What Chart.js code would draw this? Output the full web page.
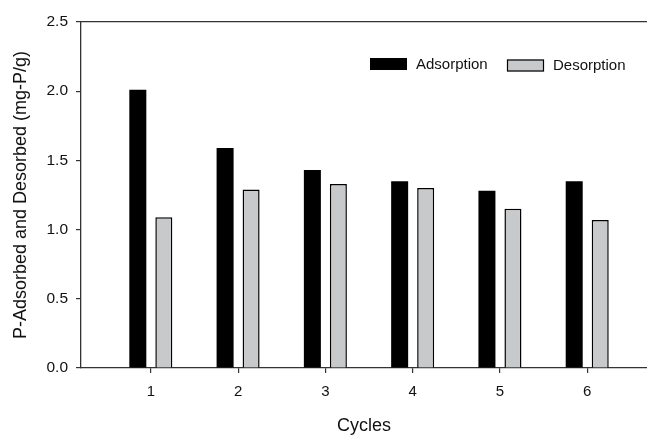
<!DOCTYPE html>
<html>
<head>
<meta charset="utf-8">
<script src="https://cdn.jsdelivr.net/npm/chart.js@4.4.1/dist/chart.umd.min.js"></script>
<style>
  html, body { margin: 0; padding: 0; background: #fff; }
  canvas { display: block; }
</style>
</head>
<body>
<canvas id="cyclesChart" width="647" height="435"></canvas>
<script>
// P adsorbed / desorbed per regeneration cycle
const cycles = [1, 2, 3, 4, 5, 6];
const adsorption = [2.01, 1.59, 1.43, 1.35, 1.28, 1.35];
const desorption = [1.09, 1.29, 1.33, 1.30, 1.15, 1.07];
const yTicks = [0, 0.5, 1.0, 1.5, 2.0, 2.5];

const axisColor = '#333333';
const textColor = '#111111';

Chart.defaults.font.family = "'Liberation Sans', Arial, sans-serif";
Chart.defaults.color = textColor;

// legend drawn inside the plot, boxes a little offset from each other
const boxLegend = {
    id: 'boxLegend',
    afterDraw(chart) {
        const { ctx, chartArea } = chart;
        const spots = [
            { x: 289, y: 36 },
            { x: 426, y: 37.5 }
        ];
        ctx.save();
        ctx.font = "15px 'Liberation Sans', Arial, sans-serif";
        ctx.textBaseline = 'middle';
        ctx.textAlign = 'left';
        ctx.fillStyle = textColor;
        chart.data.datasets.forEach((ds, i) => {
            const s = spots[i];
            const bx = chartArea.left + s.x;
            const by = chartArea.top + s.y;
            ctx.fillStyle = ds.backgroundColor;
            ctx.fillRect(bx, by, 37, 12);
            if (ds.borderWidth) {
                ctx.strokeStyle = ds.borderColor;
                ctx.lineWidth = 1.2;
                ctx.strokeRect(bx + 0.5, by + 0.5, 36, 11);
            }
            ctx.fillStyle = textColor;
            ctx.fillText(ds.label, bx + 46, by + 6.5);
        });
        ctx.restore();
    }
};

const ctx = document.getElementById('cyclesChart');

new Chart(ctx, {
    type: 'bar',
    data: {
        datasets: [
            {
                label: 'Adsorption',
                data: cycles.map((c, i) => ({ x: c, y: adsorption[i] })),
                backgroundColor: '#000000',
                borderWidth: 0
            },
            {
                label: 'Desorption',
                data: cycles.map((c, i) => ({ x: c, y: desorption[i] })),
                backgroundColor: '#c8c9cb',
                borderColor: '#000000',
                borderWidth: 1.5
            }
        ]
    },
    options: {
        responsive: false,
        animation: false,
        categoryPercentage: 0.596,
        barPercentage: 0.654,
        layout: { padding: 0 },
        plugins: {
            legend: { display: false },
            tooltip: { enabled: false }
        },
        scales: {
            x: {
                type: 'linear',
                position: 'bottom',
                offset: false,
                min: 0.2,
                max: 6.685,
                afterBuildTicks: scale => {
                    scale.ticks = cycles.map(v => ({ value: v }));
                },
                afterFit: scale => { scale.height = 67; },
                grid: {
                    offset: false,
                    drawOnChartArea: false,
                    drawTicks: true,
                    tickLength: 5,
                    color: axisColor,
                    lineWidth: 1.2
                },
                border: { color: axisColor, width: 1.3 },
                ticks: {
                    padding: 10,
                    font: { size: 15 },
                    color: textColor,
                    maxRotation: 0,
                    callback: v => String(v)
                },
                title: {
                    display: true,
                    text: 'Cycles',
                    font: { size: 18 },
                    color: textColor,
                    padding: { top: 0, bottom: -2 }
                }
            },
            xTop: {
                type: 'linear',
                position: 'top',
                offset: false,
                afterFit: scale => { scale.height = 22; },
                grid: { offset: false, drawOnChartArea: false, drawTicks: false },
                border: { color: axisColor, width: 1.3 },
                ticks: { display: false }
            },
            y: {
                min: 0,
                max: 2.5,
                afterBuildTicks: scale => {
                    scale.ticks = yTicks.map(v => ({ value: v }));
                },
                afterFit: scale => { scale.width = 81; },
                grid: {
                    drawOnChartArea: false,
                    drawTicks: true,
                    tickLength: 5,
                    color: axisColor,
                    lineWidth: 1.2
                },
                border: { color: axisColor, width: 1.3 },
                ticks: {
                    padding: 8,
                    font: { size: 15.5 },
                    color: textColor,
                    callback: v => Number(v).toFixed(1)
                },
                title: {
                    display: true,
                    text: 'P-Adsorbed and Desorbed (mg-P/g)',
                    font: { size: 18 },
                    color: textColor,
                    padding: { top: 10, bottom: 0 }
                }
            }
        }
    },
    plugins: [boxLegend]
});
</script>
</body>
</html>
